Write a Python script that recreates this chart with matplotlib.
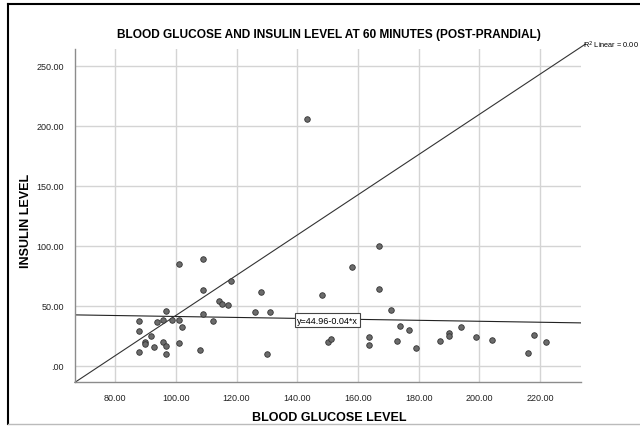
import matplotlib
matplotlib.use("Agg")
import matplotlib.pyplot as plt
from matplotlib.lines import Line2D
from matplotlib.ticker import FuncFormatter

plt.rcParams['font.family'] = ['Liberation Sans', 'DejaVu Sans']

# glucose (x) and insulin (y) at 60 minutes
glucose = [100.9, 108.8, 108.8, 96.9, 108.8, 87.9, 93.8, 95.8, 98.9, 100.9,
           101.9, 87.9, 91.9, 89.9, 89.9, 92.9, 95.8, 96.9, 100.9, 87.9,
           96.9, 107.9, 118.1, 128.0, 114.2, 115.2, 117.1, 112.1, 126.0, 131.0,
           130.1, 148.0, 166.9, 157.9, 166.9, 170.9, 173.8, 176.8, 163.8, 163.8,
           172.9, 179.0, 150.0, 151.0, 186.9, 190.0, 190.0, 194.0, 198.9, 204.0,
           216.0, 218.1, 222.0, 143.1]
insulin = [84.7, 88.9, 63.3, 45.8, 43.1, 37.5, 36.7, 37.8, 38.1, 38.1,
           32.5, 29.2, 25.0, 19.4, 17.8, 15.3, 20.0, 16.1, 18.9, 11.1,
           9.7, 13.3, 70.8, 61.7, 53.6, 51.1, 50.3, 36.9, 45.0, 45.0,
           9.7, 58.9, 100.0, 82.2, 63.6, 46.4, 32.8, 29.7, 23.6, 17.2,
           20.6, 14.7, 19.4, 22.2, 20.6, 27.2, 24.4, 32.2, 23.9, 21.4,
           10.3, 25.6, 20.0, 205.6]

x_ticks = [80, 100, 120, 140, 160, 180, 200, 220]
y_ticks = [0, 50, 100, 150, 200, 250]
intercept, slope = 44.96, -0.04
xmin, xmax = 66.8, 233.3
ymin, ymax = -13.9, 263.9

fig = plt.figure(figsize=(6.4, 4.35), dpi=100)
ax = fig.add_axes([75 / 640, 1 - 383.3 / 435, 505.5 / 640, 333.3 / 435])


def fmt(v, pos):
    s = "{:.2f}".format(v)
    return s[1:] if s.startswith("0.") else s


ax.set_xlim(xmin, xmax)
ax.set_ylim(ymin, ymax)
ax.set_xticks(x_ticks)
ax.set_yticks(y_ticks)
ax.xaxis.set_major_formatter(FuncFormatter(fmt))
ax.yaxis.set_major_formatter(FuncFormatter(fmt))
ax.tick_params(length=0, labelsize=6.5, labelcolor='#222222', pad=8)
ax.grid(True, color='#d4d4d4', linewidth=1)
ax.set_axisbelow(True)
for s in ['top', 'right']:
    ax.spines[s].set_visible(False)
for s in ['left', 'bottom']:
    ax.spines[s].set_color('#8c8c8c')
    ax.spines[s].set_linewidth(1)

ax.scatter(glucose, insulin, s=16, facecolor='#6b6b6b', edgecolor='#333333',
           linewidth=0.6, zorder=3)

# fit line
ax.plot([xmin, xmax], [intercept + slope * xmin, intercept + slope * xmax],
        color='#222222', linewidth=0.8, zorder=2)
ax.text(150, 38, "y=44.96-0.04*x", fontsize=6.5, ha='center', va='center',
        bbox=dict(boxstyle='square,pad=0.25', facecolor='white',
                  edgecolor='#444444', linewidth=0.8), zorder=4)

# diagonal reference line, running a little past the corner
ax.plot([0, 1.01], [0, 1.015], transform=ax.transAxes, color='#333333',
        linewidth=0.8, zorder=2, clip_on=False)
fig.text(583 / 640, 1 - 45 / 435, "R$^2$ Linear = 0.00", fontsize=5.3,
         ha='left', va='center')

ax.set_xlabel("BLOOD GLUCOSE LEVEL", fontsize=9, fontweight='bold')
ax.set_ylabel("INSULIN LEVEL", fontsize=9, fontweight='bold')
ax.xaxis.set_label_coords(0.502, -0.086)
ax.yaxis.set_label_coords(-0.085, 0.487)
fig.text(329 / 640, 1 - 35 / 435,
         "BLOOD GLUCOSE AND INSULIN LEVEL AT 60 MINUTES (POST-PRANDIAL)",
         fontsize=8.6, fontweight='bold', ha='center', va='center')

# outer frame
fig.add_artist(Line2D([8 / 640, 8 / 640], [1 - 425 / 435, 1 - 5 / 435], color='black', linewidth=1.5))
fig.add_artist(Line2D([8 / 640, 1], [1 - 5 / 435, 1 - 5 / 435], color='black', linewidth=1.5))
fig.add_artist(Line2D([8 / 640, 1], [1 - 425 / 435, 1 - 425 / 435], color='#bbbbbb', linewidth=1))

fig.savefig("out.png", dpi=100)
